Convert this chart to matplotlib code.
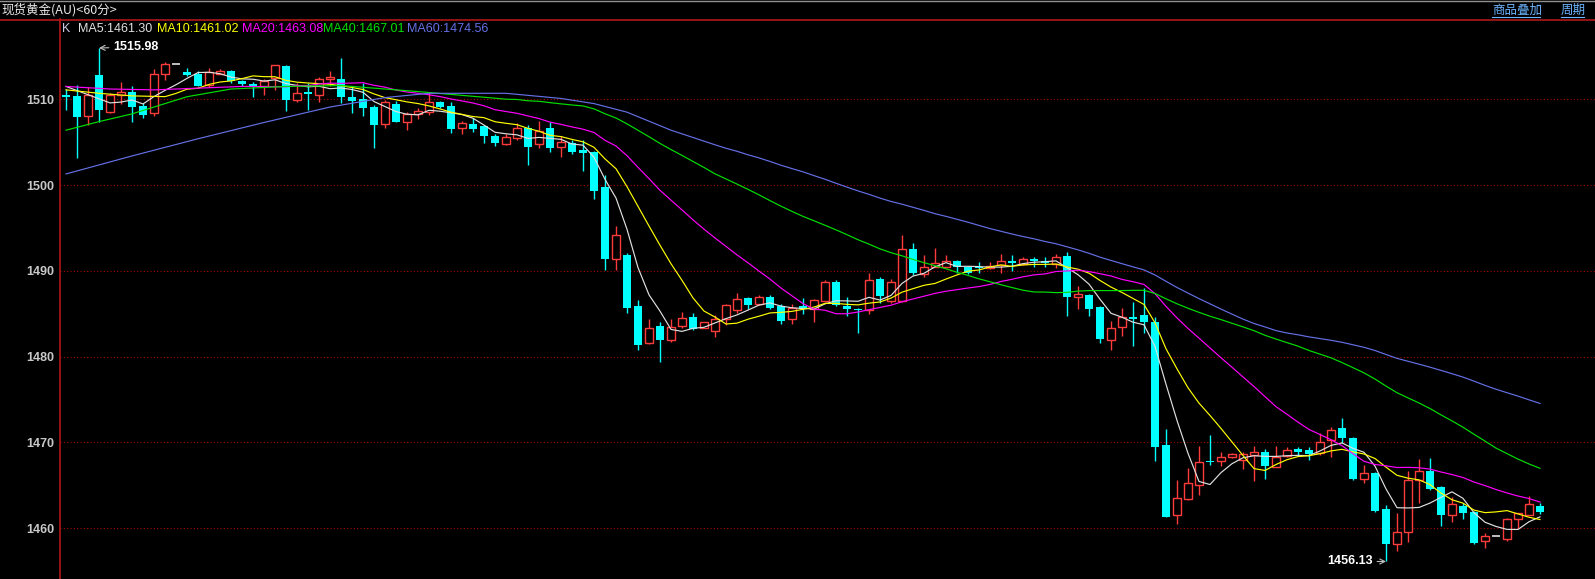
import numpy as np
import pandas as pd
import matplotlib
matplotlib.use('Agg')
import matplotlib.pyplot as plt
from matplotlib.lines import Line2D

# 60分 K线 (open, high, low, close)
opens = [1510.5, 1510.4, 1508.05, 1512.8, 1508.55, 1510.5, 1510.8, 1509.2, 1508.4, 1512.9,
         1514.1, 1513.15, 1512.95, 1511.7, 1513.0, 1513.3, 1512.1, 1511.8, 1511.5, 1512.5,
         1513.9, 1509.9, 1510.8, 1510.5, 1512.4, 1512.4, 1510.3, 1510.0, 1509.1, 1507.1,
         1509.5, 1507.4, 1508.25, 1508.5, 1509.7, 1509.2, 1506.7, 1507.1, 1506.9, 1505.7,
         1504.8, 1505.45, 1506.7, 1504.8, 1506.7, 1504.4, 1504.9, 1504.1, 1503.9, 1499.8,
         1491.4, 1491.85, 1485.9, 1481.6, 1483.6, 1482.0, 1483.6, 1484.6, 1483.4, 1483.0,
         1484.4, 1485.5, 1486.8, 1486.1, 1486.9, 1485.9, 1484.4, 1485.9, 1485.6, 1486.5,
         1488.7, 1485.9, 1485.6, 1485.4, 1489.0, 1486.5, 1486.5, 1492.6, 1489.6, 1490.5,
         1490.5, 1491.15, 1490.5, 1490.5, 1490.3, 1490.65, 1491.1, 1490.85, 1491.4, 1491.1,
         1490.8, 1491.7, 1487.0, 1487.2, 1485.8, 1482.0, 1483.5, 1484.6, 1484.9, 1484.1,
         1469.7, 1461.5, 1463.4, 1465.1, 1467.8, 1467.8, 1468.3, 1468.0, 1468.5, 1468.9,
         1467.2, 1468.4, 1469.25, 1469.1, 1468.75, 1470.3, 1471.65, 1470.5, 1465.75, 1466.5,
         1462.2, 1458.2, 1459.6, 1465.6, 1466.7, 1464.8, 1461.6, 1462.6, 1461.9, 1458.5,
         1459.07, 1458.7, 1461.05, 1461.6, 1462.6]
highs = [1511.2, 1511.7, 1511.4, 1515.98, 1510.7, 1512.0, 1511.5, 1509.6, 1513.5, 1514.35,
         1514.1, 1513.7, 1513.3, 1513.7, 1513.5, 1513.4, 1512.2, 1512.0, 1512.4, 1514.0,
         1514.0, 1511.9, 1511.9, 1512.6, 1513.3, 1514.8, 1511.55, 1511.9, 1509.3, 1509.9,
         1509.8, 1508.55, 1509.0, 1510.9, 1509.8, 1509.7, 1507.5, 1507.8, 1507.0, 1506.0,
         1506.0, 1507.2, 1507.0, 1507.5, 1507.3, 1505.7, 1505.3, 1505.3, 1504.0, 1501.2,
         1495.2, 1492.05, 1486.6, 1484.4, 1484.0, 1484.4, 1485.2, 1485.1, 1484.1, 1484.9,
         1486.2, 1487.4, 1487.0, 1487.2, 1487.2, 1486.2, 1486.2, 1486.8, 1486.7, 1488.9,
         1488.9, 1486.9, 1485.7, 1489.75, 1489.25, 1489.0, 1494.2, 1493.3, 1491.85, 1492.7,
         1491.85, 1491.3, 1490.6, 1491.0, 1491.0, 1492.0, 1491.8, 1491.6, 1491.6, 1491.6,
         1492.0, 1492.2, 1488.2, 1487.3, 1485.9, 1484.2, 1485.7, 1486.4, 1488.0, 1484.6,
         1471.6, 1465.6, 1467.0, 1469.6, 1470.9, 1468.9, 1468.8, 1468.9, 1469.6, 1469.3,
         1469.6, 1469.45, 1469.45, 1469.45, 1471.1, 1471.85, 1472.8, 1470.6, 1467.4, 1466.6,
         1462.7, 1461.75, 1466.7, 1468.1, 1468.2, 1464.9, 1463.6, 1462.9, 1462.0, 1459.45,
         1459.07, 1461.2, 1461.8, 1463.8, 1463.0]
lows = [1508.7, 1503.2, 1507.0, 1507.4, 1508.4, 1509.5, 1507.3, 1507.8, 1508.05, 1512.2,
        1514.1, 1512.7, 1511.6, 1511.4, 1512.9, 1511.9, 1511.6, 1510.3, 1510.5, 1511.1,
        1508.6, 1509.7, 1508.8, 1509.65, 1511.5, 1509.6, 1508.4, 1508.0, 1504.3, 1506.7,
        1507.3, 1506.4, 1507.7, 1508.2, 1509.0, 1506.1, 1506.0, 1506.2, 1504.9, 1504.6,
        1504.7, 1505.3, 1502.4, 1504.3, 1503.9, 1503.3, 1503.6, 1501.6, 1498.4, 1490.1,
        1490.1, 1485.1, 1480.8, 1481.5, 1479.4, 1481.75, 1483.3, 1483.1, 1483.3, 1482.3,
        1483.7, 1485.1, 1485.6, 1486.0, 1485.6, 1483.8, 1483.8, 1485.0, 1484.0, 1486.4,
        1485.9, 1484.7, 1482.8, 1485.0, 1486.3, 1486.3, 1486.4, 1489.5, 1489.3, 1490.4,
        1490.4, 1489.7, 1489.6, 1489.7, 1490.2, 1489.7, 1490.0, 1490.7, 1490.5, 1490.4,
        1490.3, 1484.7, 1485.6, 1484.7, 1481.6, 1480.8, 1482.4, 1481.25, 1482.8, 1467.9,
        1461.3, 1460.5, 1463.3, 1463.9, 1467.4, 1467.3, 1468.2, 1466.9, 1465.55, 1465.75,
        1467.1, 1468.3, 1468.45, 1468.0, 1468.5, 1468.3, 1469.9, 1465.6, 1465.3, 1461.9,
        1456.13, 1457.3, 1458.45, 1463.0, 1464.5, 1460.3, 1460.7, 1461.1, 1458.2, 1457.7,
        1459.07, 1458.55, 1460.0, 1461.5, 1461.7]
closes = [1510.3, 1507.9, 1510.5, 1508.7, 1510.5, 1510.8, 1509.1, 1508.2, 1513.0, 1514.1,
          1514.1, 1512.8, 1511.6, 1513.15, 1513.3, 1512.1, 1511.75, 1511.4, 1512.1, 1514.0,
          1509.9, 1510.7, 1510.6, 1512.4, 1512.6, 1510.3, 1509.8, 1509.0, 1507.0, 1509.65,
          1507.4, 1508.25, 1508.65, 1509.65, 1509.1, 1506.5, 1507.2, 1506.5, 1505.7, 1504.9,
          1505.6, 1506.6, 1504.4, 1506.3, 1504.3, 1505.06, 1503.9, 1503.7, 1499.3, 1491.4,
          1494.15, 1485.7, 1481.4, 1483.4, 1481.9, 1483.5, 1484.55, 1483.2, 1484.0, 1484.4,
          1486.05, 1486.7, 1486.0, 1486.9, 1485.7, 1484.2, 1485.7, 1485.6, 1486.6, 1488.7,
          1486.0, 1485.6, 1485.4, 1488.9, 1487.1, 1488.7, 1492.6, 1489.7, 1490.5, 1490.9,
          1491.1, 1490.4, 1489.8, 1490.3, 1490.6, 1491.1, 1490.9, 1491.35, 1491.1, 1490.9,
          1491.6, 1486.9, 1487.3, 1485.6, 1482.1, 1483.4, 1484.6, 1484.4, 1484.1, 1469.5,
          1461.35, 1463.5, 1465.25, 1467.7, 1467.7, 1468.3, 1468.7, 1468.7, 1468.9, 1467.3,
          1468.3, 1469.1, 1468.9, 1468.7, 1470.1, 1471.5, 1470.55, 1465.75, 1466.4, 1462.05,
          1458.2, 1459.6, 1465.6, 1466.7, 1464.6, 1461.55, 1462.8, 1461.8, 1458.3, 1459.1,
          1459.07, 1461.1, 1461.75, 1462.8, 1461.95]

# 均线起始段 (前期数据不在图内, 按图读取)
ma5_head_idx = [0]
ma5_head_val = [1511.5]
ma10_head_idx = [0, 3, 6]
ma10_head_val = [1511.1, 1510.7, 1510.4]
ma20_head_idx = [0, 4, 8, 12, 16]
ma20_head_val = [1511.5, 1511.2, 1511.1, 1511.3, 1511.5]
ma40_head_idx = [0, 3, 6, 11, 15, 20, 25, 32]
ma40_head_val = [1506.4, 1507.4, 1508.3, 1510.3, 1511.2, 1511.5, 1511.6, 1510.9]
ma60_head_idx = [0, 6, 12, 18, 24, 29, 33, 40, 45, 48, 51, 55]
ma60_head_val = [1501.3, 1503.4, 1505.4, 1507.3, 1509.1, 1510.2, 1510.7, 1510.7,
                 1510.1, 1509.5, 1508.5, 1506.4]

ma_periods = [5, 10, 20, 40, 60]
ma_last = [1461.30, 1461.02, 1463.08, 1467.01, 1474.56]   # 图例中的数值
ma_colors = ['#e0e0e0', '#ffff00', '#ff00ff', '#00e000', '#6470e6']
yticks = [1460, 1470, 1480, 1490, 1500, 1510]

W, H = 1595, 579
RED = '#ff3c3c'
CYAN = '#00ffff'
LINE_RED = '#b01818'
CJK = ['Noto Sans CJK SC', 'DejaVu Sans']

o = np.array(opens); h = np.array(highs); l = np.array(lows); c = np.array(closes)
x = np.arange(len(c))
up = c > o
down = c < o
flat = c == o

fig = plt.figure(figsize=(W / 100, H / 100), dpi=100, facecolor='black')
ax = fig.add_axes([60 / W, 0, (W - 60) / W, (H - 19) / H], facecolor='black')

# 网格
for p in yticks:
    ax.axhline(p, color='#a00000', ls=(0, (1, 2)), lw=0.8, zorder=1)

# 影线
wick_col = np.where(up, RED, np.where(down, CYAN, '#e0e0e0'))
ax.vlines(x, l, h, colors=list(wick_col), lw=1, zorder=2)

# 实体
ax.bar(x[up], (c - o)[up], bottom=o[up], width=0.72, facecolor='black',
       edgecolor=RED, linewidth=1, zorder=3)
ax.bar(x[down], (o - c)[down], bottom=c[down], width=0.8, color=CYAN,
       linewidth=0, zorder=3)
ax.hlines(o[flat], x[flat] - 0.4, x[flat] + 0.4, colors='#e0e0e0', lw=1.2, zorder=3)

# 均线
close_s = pd.Series(c)
heads = {5: (ma5_head_idx, ma5_head_val), 10: (ma10_head_idx, ma10_head_val),
         20: (ma20_head_idx, ma20_head_val), 40: (ma40_head_idx, ma40_head_val),
         60: (ma60_head_idx, ma60_head_val)}
for n, col in zip(ma_periods, ma_colors):
    roll = close_s.rolling(n).mean()
    hi, hv = heads[n]
    idx = list(hi) + list(range(n - 1, len(c)))
    val = list(hv) + list(roll.iloc[n - 1:])
    ax.plot(idx, val, color=col, lw=0.85, zorder=4)

# 最高/最低标注
imax = int(np.argmax(h)); imin = int(np.argmin(l))
ax.annotate(f'{h[imax]:.2f}', xy=(imax, h[imax]), xytext=(14, 1), textcoords='offset pixels',
            ha='left', va='center', color='white', fontsize=9, fontweight='bold',
            family='Liberation Sans',
            arrowprops=dict(arrowstyle='->', color='#c0c0c0', lw=0.8, shrinkA=1, shrinkB=0))
ax.annotate(f'{l[imin]:.2f}', xy=(imin, l[imin]), xytext=(-13, 0), textcoords='offset pixels',
            ha='right', va='center', color='white', fontsize=9, fontweight='bold',
            family='Liberation Sans',
            arrowprops=dict(arrowstyle='->', color='#c0c0c0', lw=0.8, shrinkA=1, shrinkB=0))

ax.set_xlim(-6 / 11, -6 / 11 + (W - 60) / 11)
ax.set_ylim(1454.09, 1519.36)
ax.set_xticks([])
ax.set_yticks(yticks)
ax.set_yticklabels([str(v) for v in yticks], color='#c8c8c8', fontsize=9,
                   fontweight='bold', family='Liberation Sans')
ax.tick_params(axis='y', length=0, pad=4)
for s in ['top', 'right', 'bottom']:
    ax.spines[s].set_visible(False)
ax.spines['left'].set_color(LINE_RED)
ax.spines['left'].set_linewidth(1.2)

# 顶部标题栏
fig.add_artist(Line2D([0, 1], [1 - 19.5 / H, 1 - 19.5 / H], color=LINE_RED, lw=1.2))
fig.add_artist(Line2D([0, 1], [1 - 0.5 / H, 1 - 0.5 / H], color='#909090', lw=1))
fig.text(1 / W, 1 - 10 / H, '现货黄金(AU)<60分>', color='#e8e8e8', fontsize=9,
         family=CJK, va='center', ha='left')
for label, x0, x1 in [('商品叠加', 1492, 1540), ('周期', 1561, 1584)]:
    fig.text(x0 / W, 1 - 10 / H, label, color='#6cb4ff', fontsize=9, family=CJK,
             va='center', ha='left')
    fig.add_artist(Line2D([x0 / W, x1 / W], [1 - 16.5 / H, 1 - 16.5 / H], color='#6cb4ff', lw=0.8))

# 均线图例
fig.text(62 / W, 1 - 29 / H, 'K', color='#c8c8e6', fontsize=9, family='Liberation Sans',
         va='center', ha='left')
leg_x = [78, 157, 242, 323, 407]
for n, col, v, lx in zip(ma_periods, ma_colors, ma_last, leg_x):
    fig.text(lx / W, 1 - 29 / H, f'MA{n}:{v:.2f}', color=col, fontsize=9,
             family='Liberation Sans', va='center', ha='left')

fig.savefig('out.png', dpi=100, facecolor='black')
